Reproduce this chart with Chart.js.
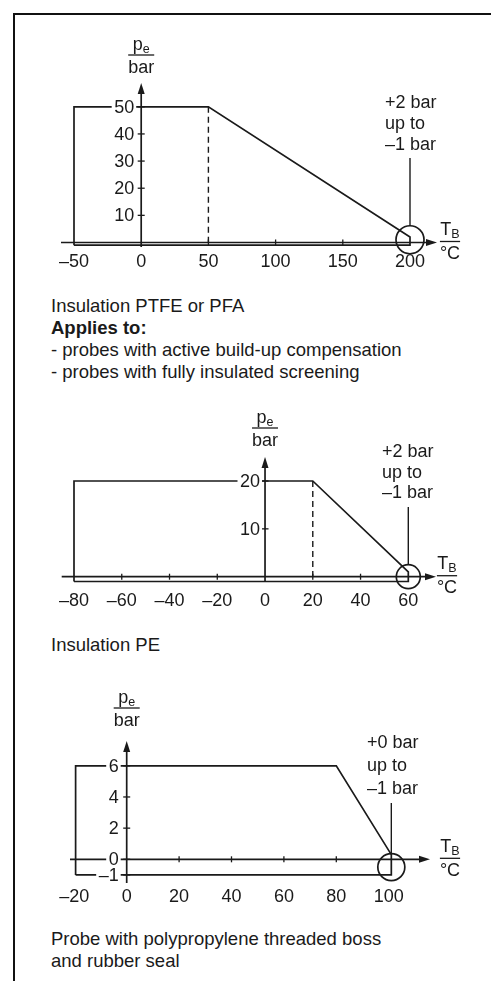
<!DOCTYPE html>
<html>
<head>
<meta charset="utf-8">
<script src="https://cdn.jsdelivr.net/npm/chart.js@4.4.1/dist/chart.umd.min.js"></script>
<style>
  body { margin: 0; background: #fff; width: 491px; height: 981px; overflow: hidden; position: relative;
         font-family: "Liberation Sans", Arial, Helvetica, sans-serif; color: #1a1a1a; }
  .frame { position: absolute; left: 13px; top: 13px; width: 520px; height: 1000px;
           border-top: 2px solid #111; border-left: 2px solid #111; }
  .band { position: absolute; left: 0; width: 491px; }
  .band canvas { display: block; }
  .caption { position: absolute; left: 51px; font-size: 18.5px; line-height: 22px; white-space: nowrap; }
</style>
</head>
<body>
<div class="frame"></div>

<div class="band" style="top:30px;height:250px"><canvas id="ptfe" width="491" height="250"></canvas></div>
<div class="caption" style="top:295px">Insulation PTFE or PFA<br><b>Applies to:</b><br>- probes with active build-up compensation<br>- probes with fully insulated screening</div>

<div class="band" style="top:400px;height:215px"><canvas id="pe" width="491" height="215"></canvas></div>
<div class="caption" style="top:634px">Insulation PE</div>

<div class="band" style="top:685px;height:225px"><canvas id="pp" width="491" height="225"></canvas></div>
<div class="caption" style="top:928px">Probe with polypropylene threaded boss<br>and rubber seal</div>

<script>
// ---------- data ----------
// Insulation PTFE / PFA
const ptfeTemp = [-50, -50, 50, 200, 200, -50];
const ptfePressure = [-1, 50, 50, 2, -1, -1];
const ptfeKneeTemp = [50, 50];
const ptfeKneePressure = [50, 0];
const ptfeXTicks = [-50, 0, 50, 100, 150, 200];
const ptfeYTicks = [10, 20, 30, 40, 50];
const ptfeNote = ['+2 bar', 'up to', '–1 bar'];

// Insulation PE
const peTemp = [-80, -80, 20, 60, 60, -80];
const pePressure = [-1, 20, 20, 1, -1, -1];
const peKneeTemp = [20, 20];
const peKneePressure = [20, 0];
const peXTicks = [-80, -60, -40, -20, 0, 20, 40, 60];
const peYTicks = [10, 20];
const peNote = ['+2 bar', 'up to', '–1 bar'];

// Polypropylene threaded boss
const ppTemp = [-19.5, -19.5, 80, 101, 101, -19.5];
const ppPressure = [-1, 6, 6, 0.3, -1, -1];
const ppXTicks = [-20, 0, 20, 40, 60, 80, 100];
const ppYTicks = [-1, 0, 2, 4, 6];
const ppNote = ['+0 bar', 'up to', '–1 bar'];

// ---------- drawing ----------
const INK = '#1a1a1a';
const FAM = '"Liberation Sans", Arial, Helvetica, sans-serif';

function pts(xs, ys) { return xs.map((v, i) => ({ x: v, y: ys[i] })); }
function fmt(v) { return String(v).replace('-', '–'); }

function seg(ctx, x1, y1, x2, y2) {
  ctx.beginPath(); ctx.moveTo(x1, y1); ctx.lineTo(x2, y2); ctx.stroke();
}
function arrowRight(ctx, x, y) {
  ctx.beginPath(); ctx.moveTo(x, y); ctx.lineTo(x - 11, y - 3.5); ctx.lineTo(x - 11, y + 3.5); ctx.closePath(); ctx.fill();
}
function arrowUp(ctx, x, y) {
  ctx.beginPath(); ctx.moveTo(x, y); ctx.lineTo(x - 3.5, y + 11); ctx.lineTo(x + 3.5, y + 11); ctx.closePath(); ctx.fill();
}

// unit label drawn as a fraction: main_sub over den
function fraction(ctx, cx, lineY, main, sub, den, numUp) {
  ctx.textAlign = 'left';
  ctx.textBaseline = 'alphabetic';
  ctx.font = '18px ' + FAM;
  const wm = ctx.measureText(main).width;
  const wd = ctx.measureText(den).width;
  ctx.font = '12.5px ' + FAM;
  const ws = ctx.measureText(sub).width;
  const wn = wm + ws;
  const start = cx - wn / 2;
  ctx.font = '18px ' + FAM;
  ctx.fillText(main, start, lineY - numUp);
  ctx.font = '12.5px ' + FAM;
  ctx.fillText(sub, start + wm, lineY - numUp + 3);
  ctx.font = '18px ' + FAM;
  ctx.fillText(den, cx - wd / 2, lineY + 17.5);
  const half = Math.max(wn, wd) / 2;
  ctx.lineWidth = 1.3;
  seg(ctx, cx - half, lineY, cx + half, lineY);
}

function diagramPlugin(d) {
  return {
    id: 'diagram_' + d.id,
    afterDatasetsDraw(chart) {
      const { ctx, scales: { x, y } } = chart;
      const top = d.band.top;
      const X = v => x.getPixelForValue(v);
      const Y = v => y.getPixelForValue(v) + top;
      const x0 = X(0), y0 = Y(0);
      ctx.save();
      ctx.translate(0, -top);
      ctx.strokeStyle = INK;
      ctx.fillStyle = INK;

      // axes with arrows
      ctx.lineWidth = 1.7;
      seg(ctx, d.ax.xFrom, y0, d.ax.xTip - 9, y0);
      arrowRight(ctx, d.ax.xTip, y0);
      seg(ctx, x0, d.ax.yBottom, x0, d.ax.yTip + 9);
      arrowUp(ctx, x0, d.ax.yTip);

      // tick marks
      ctx.lineWidth = 1.3;
      const xt = d.xTicks;
      xt.forEach((v, i) => {
        if (v !== 0 && i > 0 && i < xt.length - 1) seg(ctx, X(v), y0 - 3, X(v), y0 + 3);
      });
      d.yTicks.forEach(v => seg(ctx, x0 - 3.5, Y(v), x0 + 3.5, Y(v)));

      // y tick labels on white backdrop
      ctx.font = '18px ' + FAM;
      ctx.textAlign = 'right';
      ctx.textBaseline = 'middle';
      d.yTicks.forEach(v => {
        const t = fmt(v);
        const w = ctx.measureText(t).width;
        const rx = x0 - d.ax.yLabelGap;
        ctx.fillStyle = '#fff';
        ctx.fillRect(rx - w - 2.5, Y(v) - 8, w + 4.5, 16);
        ctx.fillStyle = INK;
        ctx.fillText(t, rx, Y(v) + 1);
      });

      // x tick labels
      ctx.textAlign = 'center';
      ctx.textBaseline = 'alphabetic';
      xt.forEach(v => ctx.fillText(fmt(v), X(v), d.ax.xLabelY));

      // circled end point and leader line
      const cx = X(d.mark.x), cy = Y(d.mark.y);
      ctx.lineWidth = 1.7;
      ctx.beginPath(); ctx.arc(cx, cy, d.mark.r, 0, Math.PI * 2); ctx.stroke();
      ctx.lineWidth = 1.4;
      seg(ctx, cx, d.note.leaderTop, cx, cy - d.mark.r);

      ctx.textAlign = 'left';
      d.note.lines.forEach((t, i) => ctx.fillText(t, d.note.x, d.note.baselines[i]));

      // axis units
      fraction(ctx, x0, d.ax.yTip - d.units.pLine, 'p', 'e', 'bar', 5);
      fraction(ctx, d.units.tX, y0 - 1, 'T', 'B', '°C', 6.5);
      ctx.restore();
    }
  };
}

function makeChart(d) {
  const b = d.band;
  const datasets = [{
    data: pts(d.temp, d.pressure), showLine: true, borderColor: INK, borderWidth: 1.7,
    pointRadius: 0, clip: false
  }];
  if (d.kneeTemp) {
    datasets.push({
      data: pts(d.kneeTemp, d.kneePressure), showLine: true, borderColor: INK, borderWidth: 1.4,
      borderDash: [6, 4], pointRadius: 0, clip: false
    });
  }
  new Chart(document.getElementById(d.id), {
    type: 'scatter',
    data: { datasets: datasets },
    options: {
      responsive: false,
      animation: false,
      events: [],
      layout: {
        padding: {
          left: d.px.left,
          right: 491 - d.px.right,
          top: d.px.top - b.top,
          bottom: b.top + b.height - d.px.bottom
        }
      },
      scales: {
        x: { type: 'linear', min: d.xTicks[0], max: d.xTicks[d.xTicks.length - 1], display: false },
        y: { type: 'linear', min: Math.min(...d.pressure), max: Math.max(...d.yTicks), display: false }
      },
      plugins: { legend: { display: false }, tooltip: { enabled: false } }
    },
    plugins: [diagramPlugin(d)]
  });
}

makeChart({
  id: 'ptfe', band: { top: 30, height: 250 },
  temp: ptfeTemp, pressure: ptfePressure, kneeTemp: ptfeKneeTemp, kneePressure: ptfeKneePressure,
  xTicks: ptfeXTicks, yTicks: ptfeYTicks,
  px: { left: 74, right: 410, top: 106.8, bottom: 245.2 },
  ax: { xFrom: 61, xTip: 437, yBottom: 247, yTip: 83, yLabelGap: 7, xLabelY: 266.5 },
  mark: { x: 200, y: 1, r: 14 },
  note: { lines: ptfeNote, x: 385, baselines: [108, 129, 150], leaderTop: 158 },
  units: { pLine: 28, tX: 450 }
});

makeChart({
  id: 'pe', band: { top: 400, height: 215 },
  temp: peTemp, pressure: pePressure, kneeTemp: peKneeTemp, kneePressure: peKneePressure,
  xTicks: peXTicks, yTicks: peYTicks,
  px: { left: 74, right: 408.3, top: 481, bottom: 581.5 },
  ax: { xFrom: 61.7, xTip: 436, yBottom: 581.5, yTip: 457, yLabelGap: 5, xLabelY: 606 },
  mark: { x: 60, y: 0, r: 12 },
  note: { lines: peNote, x: 382, baselines: [456.7, 477.5, 498], leaderTop: 507 },
  units: { pLine: 29, tX: 447 }
});

makeChart({
  id: 'pp', band: { top: 685, height: 225 },
  temp: ppTemp, pressure: ppPressure,
  xTicks: ppXTicks, yTicks: ppYTicks,
  px: { left: 74.3, right: 388.7, top: 765.8, bottom: 874.9 },
  ax: { xFrom: 70, xTip: 430, yBottom: 883, yTip: 741, yLabelGap: 8, xLabelY: 901.7 },
  mark: { x: 101, y: -0.5, r: 13.5 },
  note: { lines: ppNote, x: 367, baselines: [748, 771, 794], leaderTop: 803 },
  units: { pLine: 33, tX: 450 }
});
</script>
</body>
</html>
